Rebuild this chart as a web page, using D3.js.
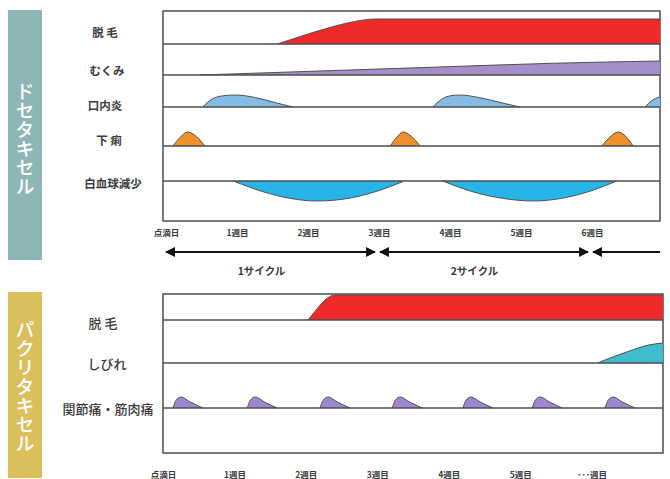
<!DOCTYPE html>
<html>
<head>
<meta charset="utf-8">
<script src="https://cdn.jsdelivr.net/npm/d3@7"></script>
<style>
  html, body { margin: 0; padding: 0; background: #fff; }
  svg { display: block; font-family: "Noto Sans CJK JP", "Noto Sans", sans-serif; }
</style>
</head>
<body>
<svg id="chart" width="670" height="479"></svg>
<script>
// ---- data (x in weeks from infusion day, y in relative severity) ----
const weekLabelsTop = ["点滴日", "1週目", "2週目", "3週目", "4週目", "5週目", "6週目"];
const weekLabelsBottom = ["点滴日", "1週目", "2週目", "3週目", "4週目", "5週目", "･･･週目"];
const cycleLabels = ["1サイクル", "2サイクル"];
const cycleSpans = [[0, 3], [3, 6], [6, 7]];

const drugTop = "ドセタキセル";
const drugBottom = "パクリタキセル";

const rowsTop = ["脱 毛", "むくみ", "口内炎", "下 痢", "白血球減少"];
const rowsBottom = ["脱 毛", "しびれ", "関節痛・筋肉痛"];

// ドセタキセル
const hairLossTop = [[1.61, 0], [2.0, 0.36], [2.35, 0.66], [2.7, 0.9], [3.0, 1.0], [7.0, 1.0]];
const edema = [[0.52, 0], [2.0, 0.14], [4.0, 0.33], [5.5, 0.47], [7.0, 0.56]];
const stomatitis = [
  [[0.56, 0], [0.68, 0.3], [0.85, 0.45], [1.01, 0.48], [1.3, 0.38], [1.6, 0.16], [1.83, 0]],
  [[3.80, 0], [3.92, 0.3], [4.05, 0.45], [4.18, 0.48], [4.45, 0.38], [4.78, 0.16], [5.03, 0]],
  [[6.79, 0], [6.88, 0.25], [7.0, 0.4]]
];
const diarrhea = [
  [[0.14, 0], [0.24, 0.34], [0.35, 0.56], [0.47, 0.38], [0.59, 0]],
  [[3.20, 0], [3.29, 0.34], [3.38, 0.56], [3.50, 0.38], [3.62, 0]],
  [[6.18, 0], [6.29, 0.34], [6.41, 0.56], [6.52, 0.38], [6.62, 0]]
];
const leukopenia = [
  [[0.99, 0], [1.4, -0.42], [1.8, -0.7], [2.17, -0.8], [2.6, -0.7], [3.0, -0.42], [3.38, -0.02]],
  [[3.94, 0], [4.35, -0.42], [4.8, -0.7], [5.21, -0.8], [5.6, -0.7], [6.0, -0.42], [6.39, 0]]
];

// パクリタキセル
const hairLossBottom = [[2.03, 0], [2.13, 0.35], [2.24, 0.72], [2.41, 1.0], [7.0, 1.0]];
const neuropathy = [[6.08, 0], [6.5, 0.45], [6.8, 0.72], [7.0, 0.8]];
const jointPain = [
  [[0.14, 0], [0.18, 0.3], [0.25, 0.44], [0.38, 0.24], [0.56, 0]],
  [[1.18, 0], [1.22, 0.3], [1.29, 0.44], [1.42, 0.24], [1.60, 0]],
  [[2.20, 0], [2.24, 0.3], [2.31, 0.44], [2.44, 0.24], [2.62, 0]],
  [[3.21, 0], [3.25, 0.3], [3.32, 0.44], [3.45, 0.24], [3.63, 0]],
  [[4.20, 0], [4.24, 0.3], [4.31, 0.44], [4.44, 0.24], [4.62, 0]],
  [[5.17, 0], [5.21, 0.3], [5.28, 0.44], [5.41, 0.24], [5.59, 0]],
  [[6.19, 0], [6.23, 0.3], [6.30, 0.44], [6.43, 0.24], [6.61, 0]]
];

// ---- layout ----
const svg = d3.select("#chart");
const lineColor = "#4d4d4d";
const textColor = "#3a3a3a";

const frameTop = { left: 163, right: 660, top: 11, bottom: 221 };
const frameBot = { left: 163, right: 663, top: 294, bottom: 453 };

const xTop = d3.scaleLinear().domain([0, 7]).range([frameTop.left, frameTop.right]);
const xBot = d3.scaleLinear().domain([0, 7]).range([frameBot.left, frameBot.right]);
const h = d3.scaleLinear().domain([0, 1]).range([0, 25]);

// row baselines and label anchors
const topBase = [44, 75, 107, 146, 181];
const topLabelPos = [[105, 32], [107, 70], [105, 105], [109, 140], [113, 183]];
const botBase = [320, 363, 408];
const botLabelPos = [[103, 322], [107, 363], [108, 408]];

// side bars with vertical drug names
svg.append("rect").attr("x", 8).attr("y", 10).attr("width", 34).attr("height", 250).attr("fill", "#8eb6b7");
svg.append("rect").attr("x", 8).attr("y", 292).attr("width", 34).attr("height", 186).attr("fill", "#dbbf5d");
[[drugTop, 139], [drugBottom, 387]].forEach(([t, cy]) => {
  svg.append("text")
    .attr("x", 25).attr("y", cy)
    .attr("text-anchor", "middle")
    .style("writing-mode", "vertical-rl")
    .attr("font-size", 19).attr("font-weight", 500)
    .attr("fill", "#fff")
    .text(t);
});

// frames
[frameTop, frameBot].forEach(f => {
  svg.append("rect")
    .attr("x", f.left).attr("y", f.top)
    .attr("width", f.right - f.left).attr("height", f.bottom - f.top)
    .attr("fill", "none").attr("stroke", lineColor).attr("stroke-width", 1.5);
});

function drawSeries(g, x, base, pts, fill) {
  const area = d3.area().x(d => x(d[0])).y0(base).y1(d => base - h(d[1])).curve(d3.curveMonotoneX);
  const line = d3.line().x(d => x(d[0])).y(d => base - h(d[1])).curve(d3.curveMonotoneX);
  g.append("path").attr("d", area(pts)).attr("fill", fill);
  g.append("path").attr("d", line(pts)).attr("fill", "none").attr("stroke", "#505050").attr("stroke-width", 1);
}

// top panel
const gTop = svg.append("g");
drawSeries(gTop, xTop, topBase[0], hairLossTop, "#ee2a2b");
drawSeries(gTop, xTop, topBase[1], edema, "#a48fcb");
stomatitis.forEach(s => drawSeries(gTop, xTop, topBase[2], s, "#85bce4"));
diarrhea.forEach(s => drawSeries(gTop, xTop, topBase[3], s, "#f0902a"));
leukopenia.forEach(s => drawSeries(gTop, xTop, topBase[4], s, "#27b4e6"));
topBase.forEach(b => {
  gTop.append("line").attr("x1", frameTop.left).attr("x2", frameTop.right).attr("y1", b).attr("y2", b)
    .attr("stroke", lineColor).attr("stroke-width", 1.3);
});
rowsTop.forEach((r, i) => {
  svg.append("text").attr("x", topLabelPos[i][0]).attr("y", topLabelPos[i][1])
    .attr("text-anchor", "middle").attr("dominant-baseline", "central")
    .attr("font-size", 11.5).attr("font-weight", 700).attr("fill", textColor).text(r);
});

// bottom panel
const gBot = svg.append("g");
drawSeries(gBot, xBot, botBase[0], hairLossBottom, "#ee2a2b");
drawSeries(gBot, xBot, botBase[1], neuropathy, "#3fbccd");
jointPain.forEach(s => drawSeries(gBot, xBot, botBase[2], s, "#9c88d0"));
botBase.forEach(b => {
  gBot.append("line").attr("x1", frameBot.left).attr("x2", frameBot.right).attr("y1", b).attr("y2", b)
    .attr("stroke", lineColor).attr("stroke-width", 1.3);
});
rowsBottom.forEach((r, i) => {
  svg.append("text").attr("x", botLabelPos[i][0]).attr("y", botLabelPos[i][1])
    .attr("text-anchor", "middle").attr("dominant-baseline", "central")
    .attr("font-size", 13).attr("font-weight", 500).attr("fill", textColor).text(r);
});

// week axes
const axisTop = d3.axisBottom(xTop).tickValues(d3.range(weekLabelsTop.length))
  .tickFormat((d, i) => weekLabelsTop[i]).tickSize(0).tickPadding(0);
svg.append("g").attr("transform", `translate(3,${233})`).call(axisTop)
  .call(g => g.select(".domain").remove())
  .selectAll("text").attr("dy", "0.35em").attr("y", 0)
  .attr("font-size", 8.5).attr("font-weight", 700).attr("fill", textColor)
  .attr("font-family", "'Noto Sans CJK JP', sans-serif");

const axisBot = d3.axisBottom(xBot).tickValues(d3.range(weekLabelsBottom.length))
  .tickFormat((d, i) => weekLabelsBottom[i]).tickSize(0).tickPadding(0);
svg.append("g").attr("transform", `translate(0,${475})`).call(axisBot)
  .call(g => g.select(".domain").remove())
  .selectAll("text").attr("dy", "0.35em").attr("y", 0)
  .attr("font-size", 8.5).attr("font-weight", 700).attr("fill", textColor)
  .attr("font-family", "'Noto Sans CJK JP', sans-serif");

// cycle arrows
const defs = svg.append("defs");
defs.append("marker").attr("id", "head").attr("viewBox", "0 0 10 10")
  .attr("refX", 9).attr("refY", 5).attr("markerWidth", 5).attr("markerHeight", 4.5)
  .attr("markerUnits", "strokeWidth").attr("orient", "auto-start-reverse")
  .append("path").attr("d", "M0,0 L10,5 L0,10 Z").attr("fill", "#111");

const arrowY = 252;
cycleSpans.forEach(([a, b], i) => {
  const last = i === cycleSpans.length - 1;
  svg.append("line")
    .attr("x1", xTop(a) + (i === 0 ? 3 : 4)).attr("x2", last ? xTop(b) : xTop(b) - 1)
    .attr("y1", arrowY).attr("y2", arrowY)
    .attr("stroke", "#111").attr("stroke-width", 2.2)
    .attr("marker-start", "url(#head)")
    .attr("marker-end", last ? null : "url(#head)");
});
cycleLabels.forEach((t, i) => {
  const [a, b] = cycleSpans[i];
  svg.append("text").attr("x", (xTop(a) + xTop(b)) / 2 - 8).attr("y", 270)
    .attr("text-anchor", "middle").attr("dominant-baseline", "central")
    .attr("font-size", 10.5).attr("font-weight", 700).attr("fill", textColor).text(t);
});
</script>
</body>
</html>
